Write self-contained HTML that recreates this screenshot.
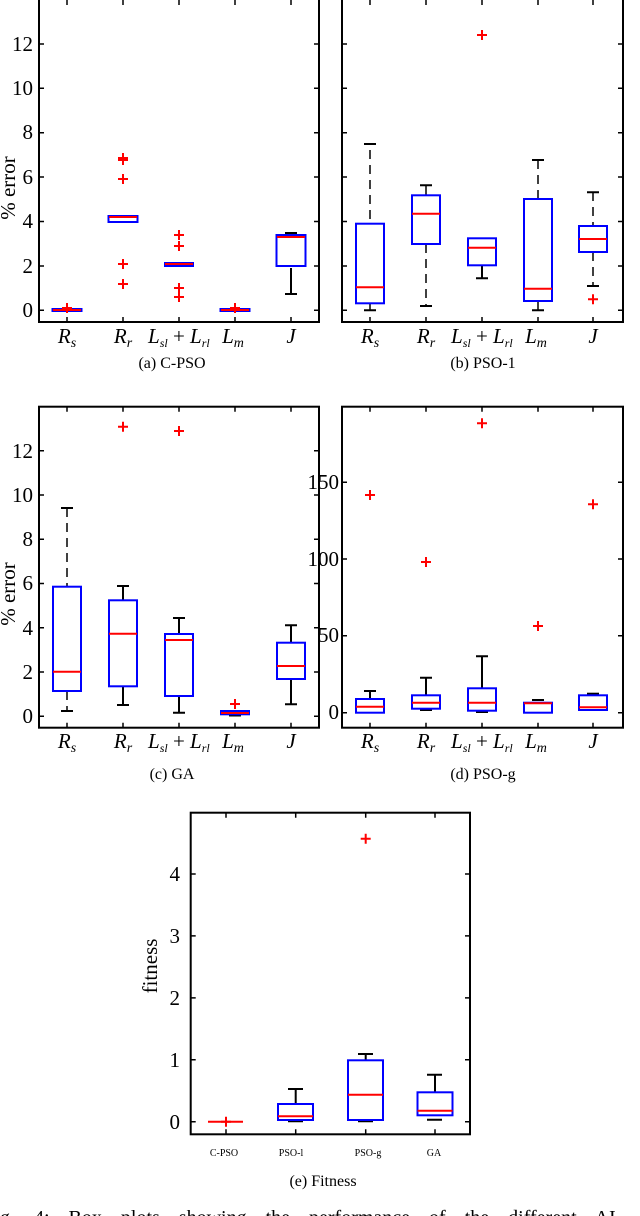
<!DOCTYPE html>
<html><head><meta charset="utf-8"><style>
body{margin:0;background:#fff;width:640px;height:1216px;overflow:hidden}
svg{display:block}
text{font-family:"Liberation Serif",serif;fill:#000}
.t{font-size:21px}
.m{font-size:21px;font-style:italic}
.c{font-size:16px}
.b{fill:none;stroke:#0000ff;stroke-width:2}
.r{stroke:#ff0000;stroke-width:2;fill:none}
.k{stroke:#000;stroke-width:2;fill:none}
.d{stroke:#000;stroke-width:1.5;stroke-dasharray:9,6;fill:none}
.ax{fill:none;stroke:#000;stroke-width:2}
.tk{stroke:#000;stroke-width:1.5}
</style></head><body>
<svg width="640" height="1216" viewBox="0 0 640 1216">
<defs>
<path id="p" d="M-5,0H5M0,-5V5" stroke="#f00" stroke-width="2"/>
</defs>

<!-- ===== Panel a ===== -->
<rect class="ax" x="39" y="-2" width="280" height="324"/>
<g class="tk">
<path d="M39,310.3h5M39,266h5M39,221.5h5M39,177h5M39,132.7h5M39,88.3h5M39,44h5"/>
<path d="M319,310.3h-5M319,266h-5M319,221.5h-5M319,177h-5M319,132.7h-5M319,88.3h-5M319,44h-5"/>
<path d="M67,322v-5M123,322v-5M179,322v-5M235,322v-5M291,322v-5M67,0v5M123,0v5M179,0v5M235,0v5M291,0v5"/>
</g>
<g class="t" text-anchor="end">
<text x="33" y="317">0</text><text x="33" y="273">2</text><text x="33" y="228">4</text><text x="33" y="184">6</text><text x="33" y="139">8</text><text x="33" y="95">10</text><text x="33" y="51">12</text>
</g>
<text class="t" transform="translate(15,188) rotate(-90)" text-anchor="middle">% error</text>
<!-- Rs -->
<rect class="b" x="52.5" y="309" width="29" height="2"/><path class="r" d="M53,310h28"/><use href="#p" x="67" y="308"/>
<!-- Rr -->
<rect class="b" x="108.5" y="216" width="29" height="6"/><path class="r" d="M109,217h28"/>
<use href="#p" x="123" y="158"/><use href="#p" x="123" y="160"/><use href="#p" x="123" y="179"/><use href="#p" x="123" y="264"/><use href="#p" x="123" y="284"/>
<!-- Lsl -->
<rect class="b" x="165" y="263" width="28" height="3"/><path class="r" d="M165,264h28"/>
<use href="#p" x="179" y="235"/><use href="#p" x="179" y="246"/><use href="#p" x="179" y="288"/><use href="#p" x="179" y="297"/>
<!-- Lm -->
<rect class="b" x="220.5" y="309" width="29" height="2"/><path class="r" d="M221,310h28"/><use href="#p" x="235" y="308"/>
<!-- J -->
<rect class="b" x="276.5" y="235" width="29" height="31"/><path class="r" d="M277,237h28"/>
<path class="k" d="M285,233h12M291,268v26M285,294h12"/>
<text class="m" x="67" y="343" text-anchor="middle">R<tspan font-size="14" dy="4">s</tspan></text>
<text class="m" x="123" y="343" text-anchor="middle">R<tspan font-size="14" dy="4">r</tspan></text>
<text class="m" x="148" y="343" font-size="18">L<tspan font-size="12" dy="4">sl</tspan><tspan dy="-4" font-style="normal"> + </tspan>L<tspan font-size="12" dy="4">rl</tspan></text>
<text class="m" x="233" y="343" text-anchor="middle">L<tspan font-size="14" dy="4">m</tspan></text>
<text class="m" x="291" y="343" text-anchor="middle">J</text>
<text class="c" x="172" y="368" text-anchor="middle">(a) C-PSO</text>

<!-- ===== Panel b ===== -->
<rect class="ax" x="342" y="-2" width="281" height="324"/>
<g class="tk">
<path d="M342,310.3h5M342,266h5M342,221.5h5M342,177h5M342,132.7h5M342,88.3h5M342,44h5"/>
<path d="M623,310.3h-5M623,266h-5M623,221.5h-5M623,177h-5M623,132.7h-5M623,88.3h-5M623,44h-5"/>
<path d="M370,322v-5M426,322v-5M482,322v-5M538,322v-5M593,322v-5M370,0v5M426,0v5M482,0v5M538,0v5M593,0v5"/>
</g>
<!-- Rs -->
<path class="d" d="M370,150V223M370,304V310"/><path class="k" d="M364,144h12M364,310.3h12"/>
<rect class="b" x="356" y="223.7" width="28" height="79.6"/><path class="r" d="M356,287.3h28"/>
<!-- Rr -->
<path class="d" d="M426,186V195M426,244V306"/><path class="k" d="M420,185.3h12M420,306h12"/>
<rect class="b" x="412" y="195.3" width="28" height="48.7"/><path class="r" d="M412,213.7h28"/>
<!-- Lsl -->
<path class="k" d="M482,265.3V278.3M476,278.3h12"/>
<rect class="b" x="468" y="238.3" width="28" height="27"/><path class="r" d="M468,247.7h28"/>
<use href="#p" x="482" y="35"/>
<!-- Lm -->
<path class="d" d="M538,160V199M538,301V310"/><path class="k" d="M532,160h12M532,310.3h12"/>
<rect class="b" x="524" y="199" width="28" height="102"/><path class="r" d="M524,288.7h28"/>
<!-- J -->
<path class="d" d="M593,192V226M593,252V286"/><path class="k" d="M587,192.3h12M587,286h12"/>
<rect class="b" x="579" y="226" width="28" height="26"/><path class="r" d="M579,239h28"/>
<use href="#p" x="593" y="299.3"/>
<text class="m" x="370" y="343" text-anchor="middle">R<tspan font-size="14" dy="4">s</tspan></text>
<text class="m" x="426" y="343" text-anchor="middle">R<tspan font-size="14" dy="4">r</tspan></text>
<text class="m" x="451" y="343" font-size="18">L<tspan font-size="12" dy="4">sl</tspan><tspan dy="-4" font-style="normal"> + </tspan>L<tspan font-size="12" dy="4">rl</tspan></text>
<text class="m" x="536" y="343" text-anchor="middle">L<tspan font-size="14" dy="4">m</tspan></text>
<text class="m" x="593" y="343" text-anchor="middle">J</text>
<text class="c" x="483" y="368" text-anchor="middle">(b) PSO-1</text>

<!-- ===== Panel c ===== -->
<rect class="ax" x="39" y="406.7" width="280" height="321"/>
<g class="tk">
<path d="M39,716.3h5M39,672h5M39,627.8h5M39,583.5h5M39,539.3h5M39,495h5M39,450.7h5"/>
<path d="M319,716.3h-5M319,672h-5M319,627.8h-5M319,583.5h-5M319,539.3h-5M319,495h-5M319,450.7h-5"/>
<path d="M67,727.7v-5M123,727.7v-5M179,727.7v-5M235,727.7v-5M291,727.7v-5M67,406.7v5M123,406.7v5M179,406.7v5M235,406.7v5M291,406.7v5"/>
</g>
<g class="t" text-anchor="end">
<text x="33" y="723">0</text><text x="33" y="679">2</text><text x="33" y="635">4</text><text x="33" y="590">6</text><text x="33" y="546">8</text><text x="33" y="502">10</text><text x="33" y="458">12</text>
</g>
<text class="t" transform="translate(15,594) rotate(-90)" text-anchor="middle">% error</text>
<!-- Rs -->
<path class="d" d="M67,508V587M67,691V711"/><path class="k" d="M61,508h12M61,711h12"/>
<rect class="b" x="53" y="586.7" width="28" height="104.3"/><path class="r" d="M53,671.7h28" stroke-width="3"/>
<!-- Rr -->
<path class="k" d="M123,586V600M123,686V705M117,586h12M117,705h12"/>
<rect class="b" x="109" y="600.3" width="28" height="86"/><path class="r" d="M109,633.7h28"/>
<use href="#p" x="123" y="426.7"/>
<!-- Lsl -->
<path class="k" d="M179,618V634M179,696V712.7M173,618h12M173,712.7h12"/>
<rect class="b" x="165" y="634" width="28" height="62"/><path class="r" d="M165,640h28"/>
<use href="#p" x="179" y="431"/>
<!-- Lm -->
<path class="k" d="M229,715.5h12"/>
<rect class="b" x="221" y="711" width="28" height="3.3" stroke-width="3"/><path class="r" d="M221,713h28"/>
<use href="#p" x="235" y="704"/>
<!-- J -->
<path class="k" d="M291,625.3V643M291,679V704.3M285,625.3h12M285,704.3h12"/>
<rect class="b" x="277" y="642.7" width="28" height="36.3"/><path class="r" d="M277,666h28"/>
<text class="m" x="67" y="748" text-anchor="middle">R<tspan font-size="14" dy="4">s</tspan></text>
<text class="m" x="123" y="748" text-anchor="middle">R<tspan font-size="14" dy="4">r</tspan></text>
<text class="m" x="148" y="748" font-size="18">L<tspan font-size="12" dy="4">sl</tspan><tspan dy="-4" font-style="normal"> + </tspan>L<tspan font-size="12" dy="4">rl</tspan></text>
<text class="m" x="233" y="748" text-anchor="middle">L<tspan font-size="14" dy="4">m</tspan></text>
<text class="m" x="291" y="748" text-anchor="middle">J</text>
<text class="c" x="172" y="779" text-anchor="middle">(c) GA</text>

<!-- ===== Panel d ===== -->
<rect class="ax" x="342" y="406.7" width="281" height="321"/>
<g class="tk">
<path d="M342,712.7h5M342,635.7h5M342,559h5M342,482.3h5"/>
<path d="M623,712.7h-5M623,635.7h-5M623,559h-5M623,482.3h-5"/>
<path d="M370,727.7v-5M426,727.7v-5M482,727.7v-5M538,727.7v-5M593,727.7v-5M370,406.7v5M426,406.7v5M482,406.7v5M538,406.7v5M593,406.7v5"/>
</g>
<g class="t" text-anchor="end">
<text x="339" y="719">0</text><text x="339" y="642">50</text><text x="339" y="566">100</text><text x="339" y="489">150</text>
</g>
<!-- Rs -->
<path class="k" d="M370,691V699M364,691h12"/>
<rect class="b" x="356" y="699" width="28" height="13.7"/><path class="r" d="M356,706.7h28"/>
<use href="#p" x="370" y="495"/>
<!-- Rr -->
<path class="k" d="M426,677.7V695M420,677.7h12M420,710h12"/>
<rect class="b" x="412" y="695.3" width="28" height="13.4"/><path class="r" d="M412,702.7h28"/>
<use href="#p" x="426" y="562"/>
<!-- Lsl -->
<path class="k" d="M482,656.3V688M476,656.3h12M476,712h12"/>
<rect class="b" x="468" y="688.3" width="28" height="22.4"/><path class="r" d="M468,702.7h28"/>
<use href="#p" x="482" y="423.3"/>
<!-- Lm -->
<path class="k" d="M532,700h12"/>
<rect class="b" x="524" y="702.7" width="28" height="10"/><path class="r" d="M524,703.3h28"/>
<use href="#p" x="538" y="626"/>
<!-- J -->
<path class="k" d="M587,693.7h12" stroke-width="3"/>
<rect class="b" x="579" y="695.3" width="28" height="14.7"/><path class="r" d="M579,707.3h28" stroke-width="1"/>
<use href="#p" x="593" y="504.3"/>
<text class="m" x="370" y="748" text-anchor="middle">R<tspan font-size="14" dy="4">s</tspan></text>
<text class="m" x="426" y="748" text-anchor="middle">R<tspan font-size="14" dy="4">r</tspan></text>
<text class="m" x="451" y="748" font-size="18">L<tspan font-size="12" dy="4">sl</tspan><tspan dy="-4" font-style="normal"> + </tspan>L<tspan font-size="12" dy="4">rl</tspan></text>
<text class="m" x="536" y="748" text-anchor="middle">L<tspan font-size="14" dy="4">m</tspan></text>
<text class="m" x="593" y="748" text-anchor="middle">J</text>
<text class="c" x="483" y="779" text-anchor="middle">(d) PSO-g</text>

<!-- ===== Panel e ===== -->
<rect class="ax" x="190.7" y="812.7" width="279.3" height="321.6"/>
<g class="tk">
<path d="M190.7,1121.7h5M190.7,1059.8h5M190.7,997.9h5M190.7,935.9h5M190.7,874h5"/>
<path d="M470,1121.7h-5M470,1059.8h-5M470,997.9h-5M470,935.9h-5M470,874h-5"/>
<path d="M226,1134.3v-5M295.7,1134.3v-5M365.7,1134.3v-5M435,1134.3v-5M226,812.7v5M295.7,812.7v5M365.7,812.7v5M435,812.7v5"/>
</g>
<g class="t" text-anchor="end" font-size="22">
<text x="180" y="1129">0</text><text x="180" y="1067">1</text><text x="180" y="1005">2</text><text x="180" y="943">3</text><text x="180" y="881">4</text>
</g>
<text class="t" transform="translate(157,966) rotate(-90)" text-anchor="middle">fitness</text>
<!-- C-PSO -->
<path class="r" d="M208,1121.7h35"/><use href="#p" x="226" y="1121.7"/>
<!-- PSO-l -->
<path class="k" d="M295.7,1089V1104M288,1089h15M288,1121.3h15"/>
<rect class="b" x="278" y="1104" width="35" height="16"/><path class="r" d="M278,1116.3h35"/>
<!-- PSO-g -->
<path class="k" d="M365.7,1054V1060M358,1054h15M358,1121.3h15"/>
<rect class="b" x="348" y="1060.3" width="35" height="59.7" stroke-width="2.5"/><path class="r" d="M348,1094.7h35"/>
<use href="#p" x="365.7" y="838.7"/>
<!-- GA -->
<path class="k" d="M435,1074.7V1092M427,1074.7h15M427,1119.7h15"/>
<rect class="b" x="417.5" y="1092.3" width="35" height="23"/><path class="r" d="M417.5,1110.7h35"/>
<g font-size="10" text-anchor="middle">
<text x="224" y="1156">C-PSO</text><text x="291" y="1156">PSO-l</text><text x="368" y="1156">PSO-g</text><text x="434" y="1156">GA</text>
</g>
<text class="c" x="323" y="1186" text-anchor="middle">(e) Fitness</text>
<text x="0" y="1224" font-size="20" word-spacing="14">g. 4:  Box plots showing the performance of the different AI</text>
</svg>
</body></html>
